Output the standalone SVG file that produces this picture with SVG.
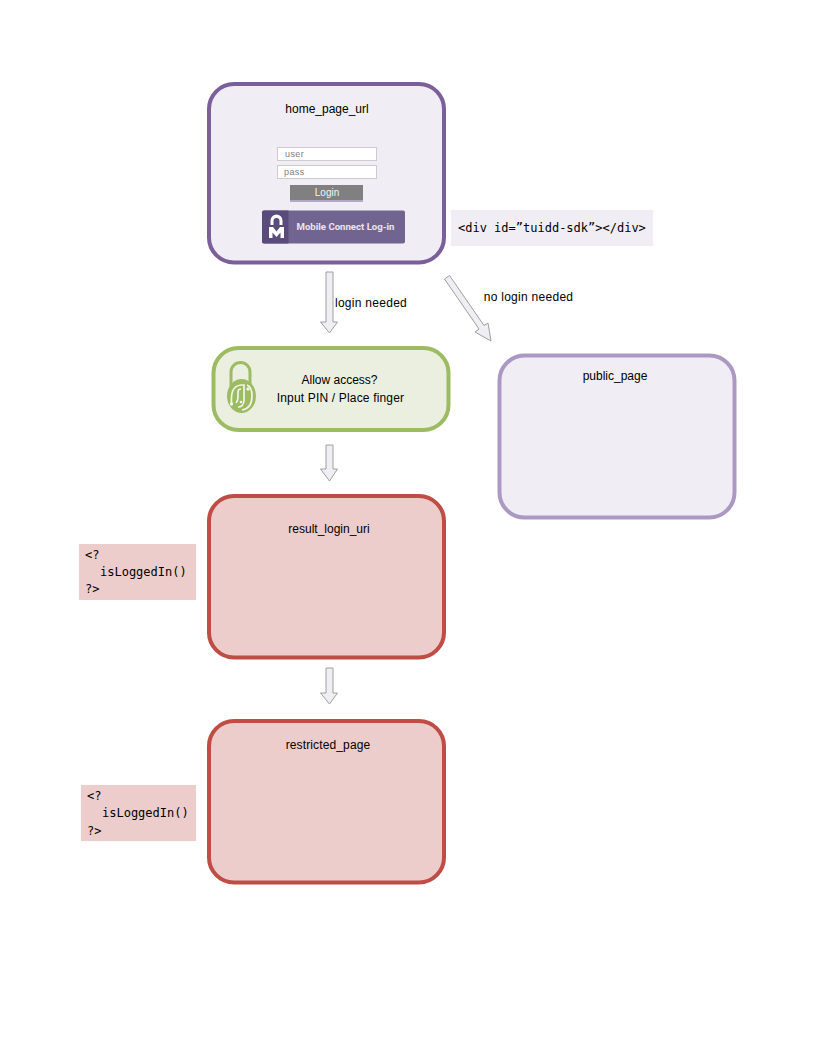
<svg xmlns="http://www.w3.org/2000/svg" width="816" height="1056" viewBox="0 0 816 1056">
<style>
.t{font-family:"Liberation Sans",Arial,sans-serif;font-size:12px;fill:#000;text-anchor:middle}
.w{letter-spacing:.28px}
.m{font-family:"DejaVu Sans Mono","Liberation Mono",monospace;font-size:12px;fill:#000}
.n{stroke-width:4}
.a{fill:#eeeef3;stroke:#a0a0a0;stroke-width:1}
</style>
<rect width="816" height="1056" fill="#fff"/>
<g id="connectors">
<path class="a" d="M326 272H333V322H337.500L329.500 333L320.500 322H326Z"/>
<path class="a" d="M444.500 279L449.500 275.500L484 325.500L488 323L491 341L475 332L479 329Z"/>
<path class="a" d="M326 445H333V469H337.500L329.500 481L320.500 469H326Z"/>
<path class="a" d="M326 668H333V693H337.500L329.500 704L320.500 693H326Z"/>
</g>
<g id="home_page_url">
<rect class="n" x="209" y="84" width="235" height="178.500" rx="25" fill="#f0eef4" stroke="#7a5f9b"/>
<text class="t" x="327" y="113">home_page_url</text>
<rect x="277.500" y="147.500" width="99" height="13" fill="#fff" stroke="#ccc"/>
<text x="285" y="157" font-family="Liberation Sans,sans-serif" font-size="9" letter-spacing=".4" fill="#808080">user</text>
<rect x="277.500" y="165.500" width="99" height="13" fill="#fff" stroke="#ccc"/>
<text x="284" y="175" font-family="Liberation Sans,sans-serif" font-size="9" letter-spacing=".4" fill="#808080">pass</text>
<rect x="290" y="185" width="73" height="16" fill="#808080"/>
<rect x="290" y="200" width="73" height="2" fill="#b4a8c6"/>
<text x="327" y="196" font-family="Liberation Sans,sans-serif" font-size="10" fill="#f4f4f4" text-anchor="middle">Login</text>
<rect x="262" y="210.500" width="143" height="33" rx="2" fill="#726491"/>
<path d="M264 210.500H288.500V243.500H264Q262 243.500 262 241.500V212.500Q262 210.500 264 210.500Z" fill="#5b4b7c"/>
<path d="M270.500 225V220.500A6 6 0 0 1 282.500 220.500V225H279.500V221A3 3 0 0 0 273.500 221V225Z" fill="#fff"/>
<path d="M269 238V227H273L276.500 231.500L280 227H284V238H280.500V232.500L276.500 237L272.500 232.500V238Z" fill="#fff"/>
<text x="345.500" y="230" font-family="Roboto,Liberation Sans,sans-serif" font-weight="700" font-size="9.600" fill="#e8e6ee" text-anchor="middle">Mobile Connect Log-in</text>
</g>
<g id="tuidd_sdk">
<rect x="451" y="210" width="202" height="36" fill="#f0eef4"/>
<text class="m" x="458" y="232">&lt;div id=”tuidd-sdk”&gt;&lt;/div&gt;</text>
</g>
<g id="allow_access">
<rect class="n" x="213.500" y="348" width="235" height="82" rx="25" fill="#eaefdf" stroke="#9dbb61"/>
<path d="M231 386V372A9.500 9.500 0 0 1 250 372V386" fill="none" stroke="#9dbb61" stroke-width="3"/>
<ellipse cx="241.500" cy="396" rx="14.500" ry="17" fill="#9dbb61"/>
<g fill="none" stroke="#f2f5ea" stroke-width="1.700">
<path d="M231.500 403C231 394 232 386 241 385H244V400C244 405 241 407 238 407"/>
<path d="M238 397V392C238 390 239 389 241 389"/>
<path d="M238 397C238 401 236 403 236 403"/>
<path d="M247 385C250 386 252 389 252 396C252 403 249 409 242 410"/>
</g>
<g fill="#f2f5ea"><circle cx="231.500" cy="404" r="1.700"/><circle cx="248" cy="389" r="1.700"/><circle cx="241" cy="402" r="1.300"/></g>
<text class="t" x="339.500" y="384">Allow access?</text>
<text class="t" x="340.500" y="402" letter-spacing=".17">Input PIN / Place finger</text>
</g>
<g id="public_page">
<rect class="n" x="499.500" y="355.500" width="235" height="162" rx="25" fill="#f0eef4" stroke="#ab99c3"/>
<text class="t" x="615" y="380">public_page</text>
</g>
<g id="result_login_uri">
<rect class="n" x="209" y="496" width="235" height="161.500" rx="25" fill="#edcdcc" stroke="#bf4c45"/>
<text class="t" x="329" y="533">result_login_uri</text>
</g>
<g id="isLoggedIn_1">
<rect x="79" y="544" width="117" height="56" fill="#edcdcc"/>
<text class="m" x="85" y="559">&lt;?</text>
<text class="m" x="100" y="576">isLoggedIn()</text>
<text class="m" x="85" y="593">?&gt;</text>
</g>
<g id="restricted_page">
<rect class="n" x="209" y="721" width="235" height="161.500" rx="25" fill="#edcdcc" stroke="#bf4c45"/>
<text class="t" x="328" y="749" letter-spacing=".13">restricted_page</text>
</g>
<g id="isLoggedIn_2">
<rect x="81" y="785" width="115" height="56" fill="#edcdcc"/>
<text class="m" x="87" y="800">&lt;?</text>
<text class="m" x="102" y="817">isLoggedIn()</text>
<text class="m" x="87" y="835">?&gt;</text>
</g>
<g id="labels">
<text class="t w" x="371" y="307">login needed</text>
<text class="t w" x="528.500" y="301">no login needed</text>
</g>
</svg>
